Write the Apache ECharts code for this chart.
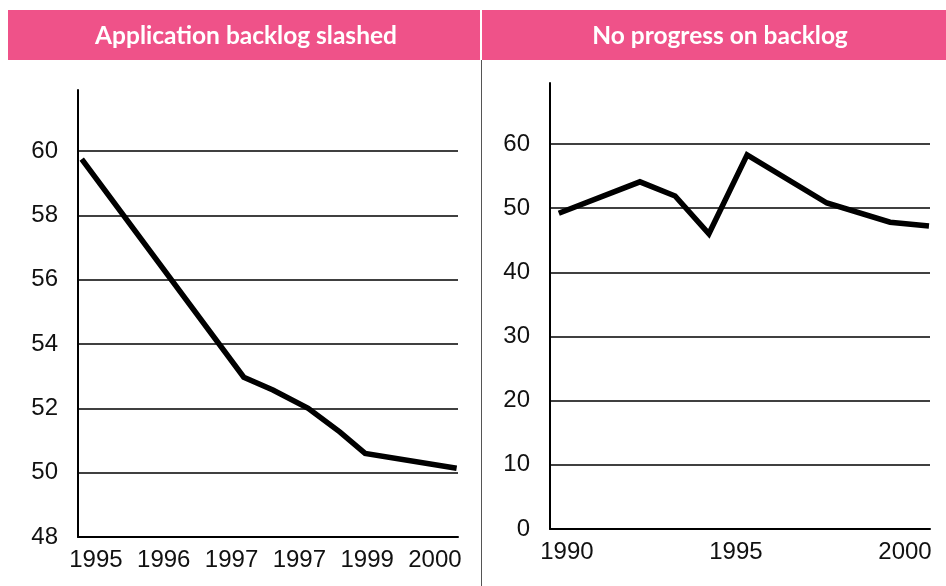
<!DOCTYPE html>
<html>
<head>
<meta charset="utf-8">
<script src="https://cdn.jsdelivr.net/npm/echarts@6/dist/echarts.min.js"></script>
<style>
  html, body { margin: 0; padding: 0; background: #fff; }
  #chart { width: 946px; height: 586px; }
</style>
</head>
<body>
<div id="chart"></div>
<script>
// titles
const titles = ['Application backlog slashed', 'No progress on backlog'];

// left panel: category labels + line points (x = label index)
const leftLabels = ['1995', '1996', '1997', '1997', '1999', '2000'];
const leftX = [-0.21, 2.18, 2.61, 3.13, 3.6, 3.97, 5.32];
const leftY = [59.75, 52.97, 52.57, 52.0, 51.26, 50.6, 50.14];

// right panel: year ticks + line points
const rightLabels = [1990, 1995, 2000];
const rightX = [1989.76, 1992.16, 1993.2, 1994.2, 1995.33, 1997.69, 1999.56, 2000.71];
const rightY = [49.2, 54.1, 51.9, 46.0, 58.3, 50.8, 47.8, 47.2];

const pink = '#ef5289';
const tickFont = '"Liberation Sans Narrow", "Arial Narrow", "Liberation Sans", Arial, sans-serif';
const headFont = 'Lato, "Open Sans", sans-serif';

const chart = echarts.init(document.getElementById('chart'), null, { renderer: 'canvas' });

const gridColors = (n) => {
  // last split line (at max) hidden
  const c = [];
  for (let i = 0; i < n; i += 1) c.push(i === n - 1 ? 'transparent' : '#000');
  return c;
};

const labelStyle = {
  color: '#111',
  fontFamily: tickFont,
  fontSize: 24,
};

const option = {
  backgroundColor: '#fff',
  animation: false,
  graphic: [
    { type: 'rect', shape: { x: 8, y: 10, width: 472, height: 50 }, style: { fill: pink } },
    { type: 'rect', shape: { x: 482, y: 10, width: 464, height: 50 }, style: { fill: pink } },
    {
      type: 'line',
      shape: { x1: 481.5, y1: 60, x2: 481.5, y2: 586 },
      style: { stroke: '#555', lineWidth: 1 },
    },
    {
      type: 'text', x: 246, y: 36,
      style: {
        text: titles[0], fill: '#fff', font: 'bold 24.5px ' + headFont,
        align: 'center', verticalAlign: 'middle',
      },
    },
    {
      type: 'text', x: 720, y: 36,
      style: {
        text: titles[1], fill: '#fff', font: 'bold 24.5px ' + headFont,
        align: 'center', verticalAlign: 'middle',
      },
    },
  ],
  grid: [
    { left: 78, top: 90, width: 380, height: 447 },
    { left: 550, top: 83, width: 380, height: 446 },
  ],
  xAxis: [
    {
      gridIndex: 0,
      type: 'value',
      min: -0.265,
      max: 5.34,
      axisLine: { show: true, onZero: false, lineStyle: { color: '#000', width: 2 } },
      axisTick: { show: false },
      splitLine: { show: false },
      axisLabel: {
        ...labelStyle,
        margin: 11,
        customValues: leftLabels.map((_, i) => i),
        formatter: (v) => leftLabels[Math.round(v)],
      },
    },
    {
      gridIndex: 1,
      type: 'value',
      min: 1989.5,
      max: 2000.74,
      axisLine: { show: true, onZero: false, lineStyle: { color: '#000', width: 2 } },
      axisTick: { show: false },
      splitLine: { show: false },
      axisLabel: {
        ...labelStyle,
        margin: 11,
        customValues: rightLabels,
        formatter: (v) => String(v),
      },
    },
  ],
  yAxis: [
    {
      gridIndex: 0,
      type: 'value',
      min: 48,
      max: 61.9,
      interval: 2,
      axisLine: { show: true, onZero: false, lineStyle: { color: '#000', width: 2 } },
      axisTick: { show: false },
      axisLabel: { ...labelStyle, margin: 20, showMaxLabel: false },
      splitLine: { show: true, lineStyle: { color: gridColors(8), width: 1.5 } },
    },
    {
      gridIndex: 1,
      type: 'value',
      min: 0,
      max: 69.5,
      interval: 10,
      axisLine: { show: true, onZero: false, lineStyle: { color: '#000', width: 2 } },
      axisTick: { show: false },
      axisLabel: { ...labelStyle, margin: 20, showMaxLabel: false },
      splitLine: { show: true, lineStyle: { color: gridColors(8), width: 1.5 } },
    },
  ],
  series: [
    {
      type: 'line',
      xAxisIndex: 0,
      yAxisIndex: 0,
      data: leftX.map((x, i) => [x, leftY[i]]),
      showSymbol: false,
      lineStyle: { color: '#000', width: 5.5, cap: 'butt', join: 'miter' },
    },
    {
      type: 'line',
      xAxisIndex: 1,
      yAxisIndex: 1,
      data: rightX.map((x, i) => [x, rightY[i]]),
      showSymbol: false,
      lineStyle: { color: '#000', width: 5.5, cap: 'butt', join: 'miter' },
    },
  ],
};

chart.setOption(option);
</script>
</body>
</html>
